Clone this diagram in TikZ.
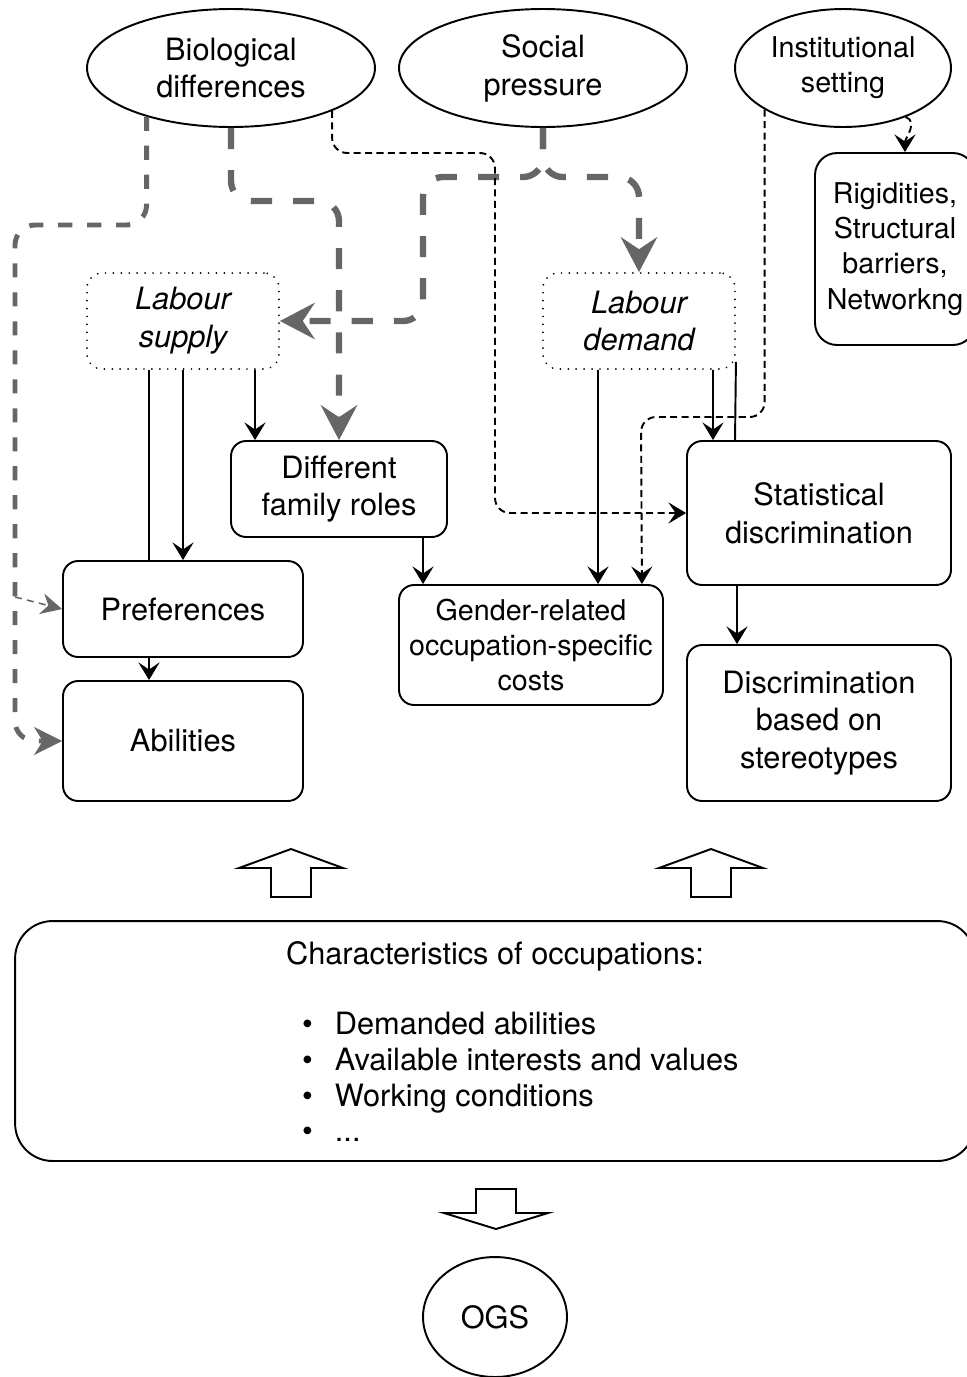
\documentclass[tikz,border=0pt]{standalone}
\usepackage{fontspec}
\setmainfont{TeX Gyre Heros}
\usepackage{xcolor}
\usetikzlibrary{shapes.geometric,arrows.meta,calc}
\definecolor{hlgrey}{RGB}{102,102,102}
\tikzset{
  bigtext/.style={font=\fontsize{17.5}{21.5}\selectfont},
  smalltext/.style={font=\fontsize{16.3}{20}\selectfont},
  roundbox/.style={draw, line width=1.1pt, rounded corners=0.3cm, align=center, inner sep=0pt, bigtext},
  dotbox/.style={draw, line width=1.1pt, dash pattern=on 0.01pt off 4.5pt, line cap=round, rounded corners=0.3cm, align=center, inner sep=0pt,
    minimum width=3.84cm, minimum height=1.92cm, font=\fontsize{17.5}{21.5}\selectfont\itshape},
  oval/.style={draw, ellipse, line width=1.1pt, align=center, inner sep=0pt, minimum height=2.36cm, bigtext},
  link/.style={line width=1.1pt, -{Stealth[length=10pt,width=12pt,inset=4pt]}},
  hint/.style={line width=1.1pt, dash pattern=on 4pt off 2.5pt, rounded corners=0.3cm, -{Stealth[length=10pt,width=12pt,inset=4pt]}},
  gdash/.style={hlgrey, line width=3.6pt, dash pattern=on 12pt off 12pt, rounded corners=0.4cm, -{Stealth[length=20pt,width=21pt,inset=7pt,line width=0pt]}},
  gdashmid/.style={hlgrey, line width=2.8pt, dash pattern=on 8pt off 8.5pt, rounded corners=0.4cm, -{Stealth[length=16pt,width=16pt,inset=5pt,line width=0pt]}},
  gdashthin/.style={hlgrey, line width=0.9pt, dash pattern=on 4pt off 3pt, -{Stealth[length=12pt,width=12pt,inset=4pt,line width=0pt]}},
  blockarrow/.style={line width=1.1pt, line join=miter},
}
\begin{document}
\begin{tikzpicture}[x=0.02cm, y=-0.02cm]
\useasboundingbox (0,0) rectangle (967,1377);

% causes
\node[oval, minimum width=5.76cm] (bio) at (231,68) {Biological\\differences};
\node[oval, minimum width=5.76cm] (social) at (543,68) {Social\\pressure};
\node[oval, minimum width=4.32cm, smalltext] (inst) at (843,68) {Institutional\\setting};
\node[roundbox, smalltext, minimum width=3.2cm, minimum height=3.84cm, rounded corners=0.44cm] (rigid) at (895,249) {Rigidities,\\Structural\\barriers,\\Networkng};

% market sides
\node[dotbox] (supply) at (183,321) {Labour\\supply};
\node[dotbox] (demand) at (639,321) {Labour\\demand};

% mechanisms
\node[roundbox, minimum width=4.32cm, minimum height=1.92cm] (family) at (339,489) {Different\\family roles};
\node[roundbox, minimum width=4.8cm, minimum height=1.92cm] (pref) at (183,609) {Preferences};
\node[roundbox, minimum width=4.8cm, minimum height=2.4cm] (abil) at (183,741) {Abilities};
\node[roundbox, smalltext, minimum width=5.28cm, minimum height=2.4cm] (costs) at (531,645) {Gender-related\\occupation-specific\\costs};
\node[roundbox, minimum width=5.28cm, minimum height=2.88cm] (stat) at (819,513) {Statistical\\discrimination};
\node[roundbox, minimum width=5.28cm, minimum height=3.12cm] (stereo) at (819,723) {Discrimination\\based on\\stereotypes};

% occupations and outcome
\node[draw, line width=1.1pt, rounded corners=0.75cm, minimum width=19.2cm, minimum height=4.8cm] (occ) at (495,1041) {};
\node[bigtext] (occtitle) at (495,956) {Characteristics of occupations:};
\node[align=left, anchor=west, font=\fontsize{17.5}{20.4}\selectfont] (occlist) at (296,1077) {%
  \textbullet\hspace{12.5pt}Demanded abilities\\
  \textbullet\hspace{12.5pt}Available interests and values\\
  \textbullet\hspace{12.5pt}Working conditions\\
  \textbullet\hspace{12.5pt}...};
\node[oval, minimum width=2.88cm, minimum height=2.4cm] (ogs) at (495,1317) {OGS};

% grey influences
\coordinate (split) at (15,597);
\draw[gdashmid] (bio.210) |- (15,225) |- (abil.west);
\draw[gdashthin] (split) -- (pref.west);
\draw[gdash] (bio.south) |- (339,201) -- (family.north);
\draw[gdash] (social.south) |- (423,177) |- (supply.east);
\draw[gdash] (social.south) |- (639,177) -- (demand.north);

% dashed influences
\draw[hint] (bio.337) |- (495,153) |- (stat.west);
\draw[hint] (inst.208) |- (641,417) -- ([xshift=-0.44cm]costs.north east);
\draw[hint] (inst.322) to[out=-20,in=90] ([xshift=0.2cm]rigid.north);

% supply side
\draw[line width=1.1pt] ([xshift=-0.68cm]supply.south) -- ([xshift=-0.68cm]pref.north);
\draw[link] (supply.south) -- (pref.north);
\draw[link] ([xshift=-0.68cm]pref.south) -- ([xshift=-0.68cm]abil.north);
\draw[link] ([xshift=1.44cm]supply.south) -- ([xshift=-1.68cm]family.north);
\draw[link] ([xshift=1.68cm]family.south) -- ([xshift=-2.16cm]costs.north);

% demand side
\draw[link] ([xshift=-0.82cm]demand.south) -- ([xshift=1.34cm]costs.north);
\draw[link] ([xshift=1.48cm]demand.south) -- ([xshift=-2.12cm]stat.north);
\draw[line width=1.1pt] ([yshift=0.16cm]demand.south east) -- ([xshift=-1.68cm]stat.north);
\draw[link] ([xshift=-1.64cm]stat.south) -- ([xshift=-1.64cm]stereo.north);

% block arrows
\draw[blockarrow] (271,897) -- (271,868) -- (239,868) -- (291,849) -- (343,868) -- (311,868) -- (311,897) -- cycle;
\draw[blockarrow] (691,897) -- (691,868) -- (659,868) -- (711,849) -- (763,868) -- (731,868) -- (731,897) -- cycle;
\draw[blockarrow] (476,1189) -- (476,1213) -- (444,1213) -- (496,1229) -- (548,1213) -- (516,1213) -- (516,1189) -- cycle;
\end{tikzpicture}
\end{document}
